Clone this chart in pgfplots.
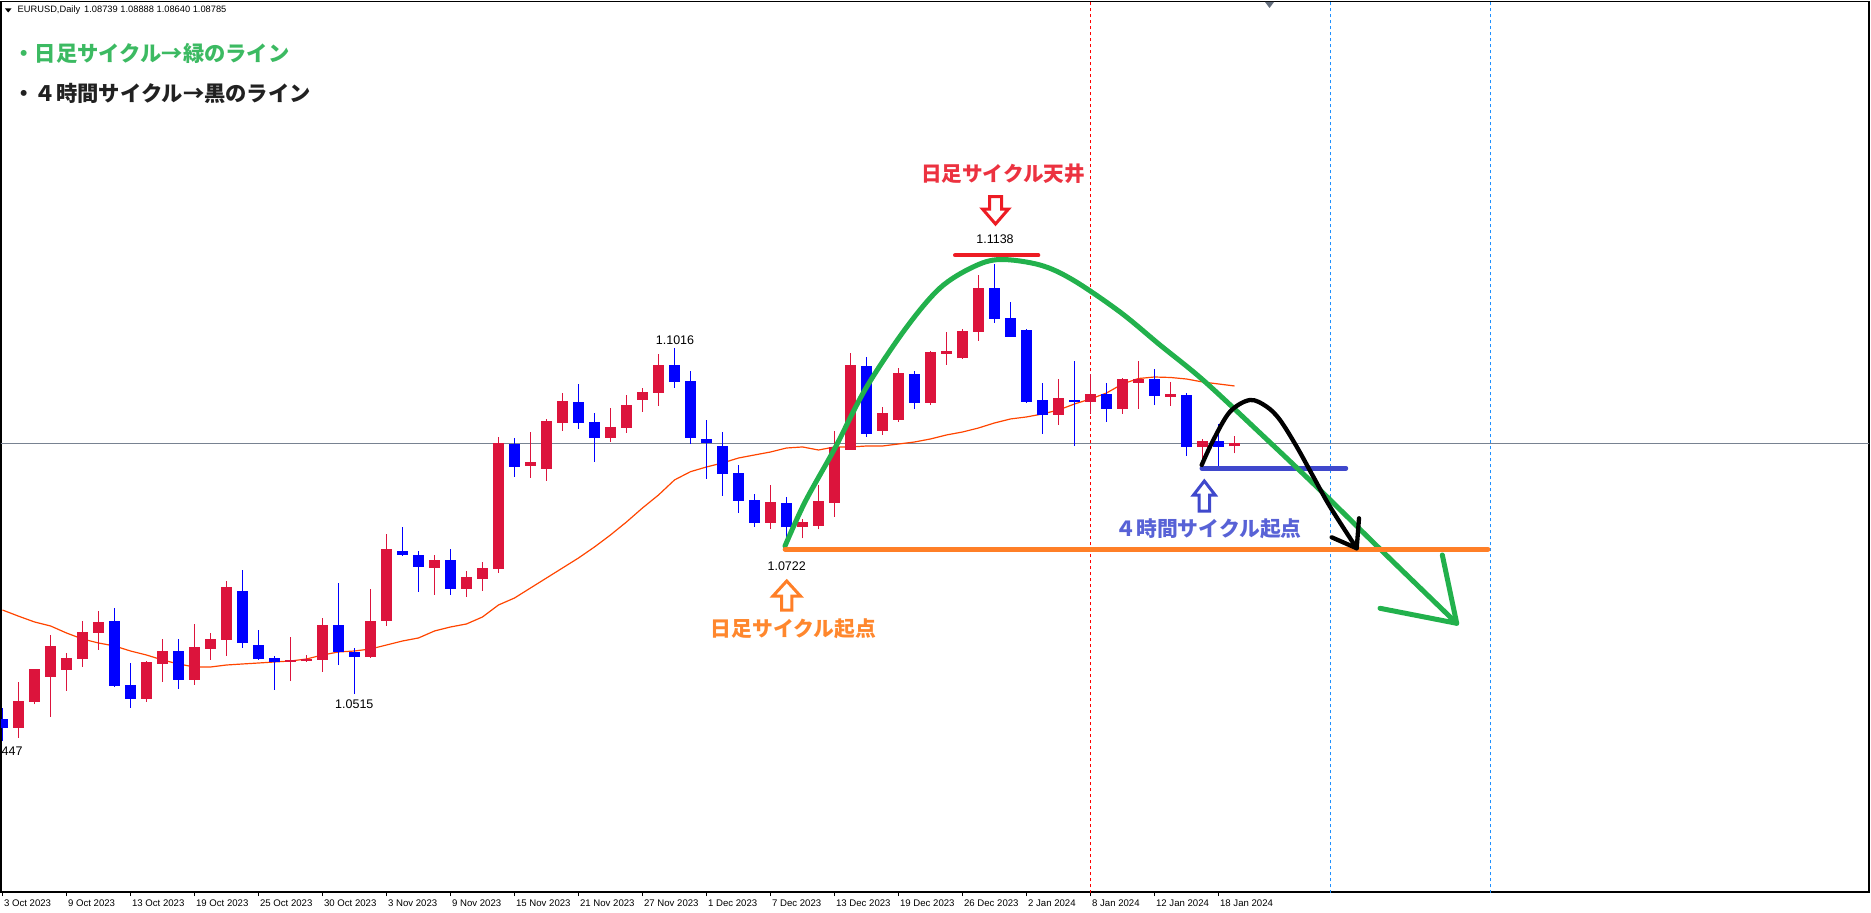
\documentclass[border=0pt]{standalone}
\usepackage{pgfplots}
\pgfplotsset{compat=1.18}
\usepackage{pgfplotstable}
\usepackage{fontspec}
\setmainfont{Liberation Sans}
\newfontfamily\jp{Noto Sans CJK JP}

\definecolor{candleup}{RGB}{220,20,60}
\definecolor{candledn}{RGB}{0,0,255}
\definecolor{maline}{RGB}{255,69,0}
\definecolor{bidline}{RGB}{120,130,145}
\definecolor{cyclegreen}{RGB}{34,177,76}
\definecolor{textgreen}{RGB}{60,186,98}
\definecolor{topred}{RGB}{237,28,36}
\definecolor{textred}{RGB}{236,50,64}
\definecolor{baseorange}{RGB}{255,127,39}
\definecolor{textorange}{RGB}{255,135,45}
\definecolor{fourhblue}{RGB}{63,72,204}
\definecolor{textblue}{RGB}{88,98,214}
\definecolor{vblue}{RGB}{30,144,255}
\definecolor{shiftgray}{RGB}{100,110,125}

% EURUSD daily candles, i = bar number from 3 Oct 2023
% rising bars (close above open)
\pgfplotstableread{
i  o       h       l       c
1  1.04664 1.05326 1.04519 1.05051
2  1.05041 1.05520 1.05003 1.05514
3  1.05403 1.06007 1.04823 1.05848
4  1.05500 1.05746 1.05196 1.05674
5  1.05663 1.06210 1.05548 1.06051
6  1.06041 1.06355 1.05790 1.06196
9  1.05080 1.05630 1.05036 1.05616
10 1.05587 1.05949 1.05326 1.05775
12 1.05355 1.06167 1.05283 1.05833
13 1.05804 1.06036 1.05645 1.05949
14 1.05935 1.06790 1.05703 1.06703
18 1.05616 1.05978 1.05340 1.05645
19 1.05630 1.05717 1.05616 1.05659
20 1.05645 1.06254 1.05471 1.06152
23 1.05688 1.06674 1.05674 1.06210
24 1.06210 1.07471 1.06138 1.07253
27 1.06983 1.07167 1.06587 1.07094
29 1.06678 1.06935 1.06562 1.06848
30 1.06823 1.07065 1.06649 1.06978
31 1.06968 1.08877 1.06910 1.08785
33 1.08461 1.08949 1.08287 1.08514
34 1.08417 1.09138 1.08243 1.09109
35 1.09084 1.09515 1.08968 1.09399
38 1.08866 1.09297 1.08808 1.09022
39 1.09011 1.09486 1.08939 1.09341
40 1.09417 1.09587 1.09243 1.09529
41 1.09519 1.10080 1.09330 1.09920
48 1.07635 1.08181 1.07548 1.07935
50 1.07577 1.07688 1.07409 1.07645
51 1.07591 1.08181 1.07539 1.07949
52 1.07925 1.08964 1.07722 1.08732
53 1.08692 1.10090 1.08692 1.09920
55 1.08968 1.09312 1.08910 1.09225
56 1.09127 1.09877 1.09098 1.09804
58 1.09370 1.10123 1.09345 1.10109
59 1.10084 1.10398 1.09920 1.10123
60 1.10017 1.10442 1.10012 1.10413
61 1.10403 1.11225 1.10272 1.11036
66 1.09200 1.09717 1.09055 1.09442
68 1.09388 1.09790 1.09214 1.09500
70 1.09287 1.09732 1.09214 1.09717
71 1.09664 1.09978 1.09287 1.09717
73 1.09461 1.09674 1.09330 1.09496
75 1.08736 1.08848 1.08519 1.08819
77 1.08739 1.08888 1.08640 1.08785
}\bull

% falling bars (close below open)
\pgfplotstableread{
i  o       h       l       c
0  1.04790 1.04954 1.04470 1.04664
7  1.06210 1.06398 1.05254 1.05268
8  1.05283 1.05601 1.04949 1.05080
11 1.05775 1.05949 1.05225 1.05355
15 1.06645 1.06949 1.05819 1.05891
16 1.05862 1.06080 1.05645 1.05659
17 1.05674 1.05703 1.05210 1.05616
21 1.06152 1.06761 1.05572 1.05761
22 1.05761 1.05819 1.05150 1.05688
25 1.07224 1.07572 1.07152 1.07167
26 1.07167 1.07224 1.06635 1.06997
28 1.07094 1.07253 1.06587 1.06678
32 1.08775 1.08862 1.08301 1.08446
36 1.09384 1.09645 1.08997 1.09084
37 1.09094 1.09225 1.08519 1.08866
42 1.09920 1.10160 1.09591 1.09678
43 1.09688 1.09833 1.08779 1.08866
44 1.08848 1.09123 1.08272 1.08785
45 1.08746 1.08949 1.08026 1.08345
46 1.08355 1.08471 1.07780 1.07953
47 1.07964 1.08051 1.07577 1.07635
49 1.07920 1.08007 1.07220 1.07568
54 1.09906 1.10036 1.08881 1.08925
57 1.09790 1.09833 1.09287 1.09374
62 1.11036 1.11380 1.10533 1.10591
63 1.10601 1.10833 1.10330 1.10330
64 1.10427 1.10442 1.09374 1.09388
65 1.09413 1.09659 1.08925 1.09200
67 1.09409 1.09978 1.08751 1.09384
69 1.09500 1.09659 1.09098 1.09287
72 1.09717 1.09862 1.09340 1.09475
74 1.09486 1.09515 1.08606 1.08736
76 1.08819 1.09065 1.08456 1.08736
}\bear

\newcommand{\jpf}[1]{\jp\bfseries\fontsize{#1}{#1}\selectfont}

% one candle component: a vertical bar from y to y + (error plus)
\pgfplotsset{
  candle part/.style n args={2}{
    draw=none, mark=none,
    error bars/.cd, y dir=plus, y explicit, error mark=none,
    error bar style={draw=#1, solid, line width=#2}},
}

\begin{document}
\begin{tikzpicture}
\begin{axis}[
  name=ax, at={(0,0)}, anchor=south west,
  scale only axis, width=934pt, height=445.25pt,
  xmin=-0.09375, xmax=116.65625,
  ymin=1.022821, ymax=1.151879,
  axis line style={black, line width=0.7pt},
  ytick=\empty,
  xtick={0,4,...,76},
  xticklabels={3 Oct 2023,9 Oct 2023,13 Oct 2023,19 Oct 2023,25 Oct 2023,30 Oct 2023,3 Nov 2023,9 Nov 2023,15 Nov 2023,21 Nov 2023,27 Nov 2023,1 Dec 2023,7 Dec 2023,13 Dec 2023,19 Dec 2023,26 Dec 2023,2 Jan 2024,8 Jan 2024,12 Jan 2024,18 Jan 2024},
  xtick pos=left, tick align=outside, major tick length=2pt,
  xtick style={black, line width=0.5pt},
  xticklabel style={font=\fontsize{4.8pt}{5pt}\selectfont, anchor=north west, inner sep=0pt, xshift=0.6pt, yshift=-1.6pt},
  clip=true,
]
% current bid level and period separators
\addplot[bidline, line width=0.5pt, mark=none] coordinates {(-1,1.08785) (118,1.08785)};
\draw[red, line width=0.5pt, dash pattern=on 1.5pt off 1.5pt] (axis cs:68,1.02) -- (axis cs:68,1.16);
\draw[vblue, line width=0.5pt, dash pattern=on 1.5pt off 1.5pt] (axis cs:83,1.02) -- (axis cs:83,1.16);
\draw[vblue, line width=0.5pt, dash pattern=on 1.5pt off 1.5pt] (axis cs:93,1.02) -- (axis cs:93,1.16);

% moving average
\addplot[maline, line width=0.6pt, mark=none] coordinates {
(0,1.06369) (1,1.06280) (2,1.06196) (3,1.06138) (4,1.06036) (5,1.05949) (6,1.05891)
(7,1.05848) (8,1.05775) (9,1.05717) (10,1.05645) (11,1.05587) (12,1.05543) (13,1.05543)
(14,1.05572) (15,1.05587) (16,1.05601) (17,1.05616) (18,1.05630) (19,1.05659) (20,1.05717)
(21,1.05761) (22,1.05775) (23,1.05804) (24,1.05862) (25,1.05920) (26,1.05964) (27,1.06065)
(28,1.06123) (29,1.06167) (30,1.06268) (31,1.06442) (32,1.06543) (33,1.06688) (34,1.06833)
(35,1.06978) (36,1.07123) (37,1.07283) (38,1.07457) (39,1.07645) (40,1.07848) (41,1.08036)
(42,1.08254) (43,1.08374) (44,1.08442) (45,1.08500) (46,1.08572) (47,1.08616) (48,1.08659)
(49,1.08717) (50,1.08732) (51,1.08688) (52,1.08732) (53,1.08732) (54,1.08746) (55,1.08746)
(56,1.08775) (57,1.08804) (58,1.08848) (59,1.08906) (60,1.08949) (61,1.09007) (62,1.09080)
(63,1.09138) (64,1.09167) (65,1.09210) (66,1.09268) (67,1.09355) (68,1.09428) (69,1.09514)
(70,1.09645) (71,1.09724) (72,1.09746) (73,1.09739) (74,1.09717) (75,1.09674) (76,1.09645)
(77,1.09616)};

% wicks
\addplot[candle part={candleup}{0.85pt}]
  table[x=i, y=l, y error plus expr=\thisrow{h}-\thisrow{l}] {\bull};
\addplot[candle part={candledn}{0.85pt}]
  table[x=i, y=l, y error plus expr=\thisrow{h}-\thisrow{l}] {\bear};
% bodies
\addplot[candle part={candleup}{5.5pt}]
  table[x=i, y=o, y error plus expr=\thisrow{c}-\thisrow{o}] {\bull};
\addplot[candle part={candledn}{5.5pt}]
  table[x=i, y=c, y error plus expr=\thisrow{o}-\thisrow{c}] {\bear};
\end{axis}

% drawings on the chart, in screen units (1 unit = 0.5pt, y downwards)
\begin{scope}[shift={(ax.south west)}, shift={(-0.5pt,446pt)}, x=0.5pt, y=-0.5pt]
  % header
  \fill[black] (5,8.5) -- (11.5,8.5) -- (8.25,12.5) -- cycle;
  \node[anchor=west, inner sep=0pt, font=\fontsize{4.65pt}{5pt}\selectfont] at (17.3,10)
    {EURUSD,Daily\hspace{2pt}1.08739 1.08888 1.08640 1.08785};
  \fill[shiftgray] (1265,2) -- (1274,2) -- (1269.5,8) -- cycle;

  % price labels
  \begin{scope}[every node/.style={inner sep=0pt, font=\fontsize{6.25pt}{7pt}\selectfont}]
    \node at (995,239.3) {1.1138};
    \node at (675,340) {1.1016};
    \node at (786.7,566) {1.0722};
    \node at (354.3,704) {1.0515};
    \node[anchor=east] at (23,750.7) {1.0447};
  \end{scope}

  % 4-hour cycle base
  \draw[fourhblue, line width=2.2pt, line cap=round] (1201.7,468.3) -- (1346,468.3);
  % daily cycle
  \draw[cyclegreen, line width=2.5pt, line cap=round, line join=round]
    plot[smooth, tension=0.55] coordinates {(785,546) (805,502) (835,448) (866,388) (906,328)
      (940,288) (973,267) (1000,259.5) (1040,265) (1073,280) (1120,312) (1160,345)
      (1203,380) (1260,433) (1320,490) (1380,549) (1456.7,623.3)};
  \draw[cyclegreen, line width=2.5pt, line cap=round, line join=round]
    (1442.3,555) -- (1456.7,623.3) -- (1380,608.3);
  % daily cycle base and top
  \draw[baseorange, line width=2.3pt, line cap=round] (785,549.3) -- (1488,549.3);
  \draw[topred, line width=2pt, line cap=round] (955,255.3) -- (1038.3,255.3);
  % 4-hour cycle
  \draw[black, line width=2.15pt, line cap=round, line join=round]
    plot[smooth, tension=0.55] coordinates {(1201.7,465) (1213.3,440) (1230,411.7) (1250,400)
      (1266.7,406.7) (1280,420) (1296.7,446.7) (1313.3,476.7) (1330,506.7) (1356.7,548.3)};
  \draw[black, line width=2.15pt, line cap=round, line join=round]
    (1359,518.3) -- (1356.7,548.3) -- (1331.7,537.3);

  % hollow arrows
  \draw[topred, line width=1.5pt, fill=white]
    (989.5,196.5) -- (1001.5,196.5) -- (1001.5,209) -- (1008.5,209) -- (995.5,224)
    -- (982.5,209) -- (989.5,209) -- cycle;
  \draw[baseorange, line width=1.5pt, fill=white]
    (786.7,581) -- (800.4,596) -- (791.9,596) -- (791.9,610) -- (781.5,610)
    -- (781.5,596) -- (773,596) -- cycle;
  \draw[fourhblue, line width=1.5pt, fill=white]
    (1204.3,481) -- (1215.1,495) -- (1209.6,495) -- (1209.6,511) -- (1199,511)
    -- (1199,495) -- (1193.5,495) -- cycle;

  % notes
  \node[anchor=west, inner sep=0pt, text=textgreen, font=\jpf{10.65pt}] at (13.3,53.3)
    {・日足サイクル→緑のライン};
  \node[anchor=west, inner sep=0pt, text=black!87, font=\jpf{10.65pt}] at (13.3,93.3)
    {・４時間サイクル→黒のライン};
  \node[inner sep=0pt, text=textred, font=\jpf{10.3pt}] at (1003,174) {日足サイクル天井};
  \node[inner sep=0pt, text=textorange, font=\jpf{10.4pt}] at (793.5,629) {日足サイクル起点};
  \node[inner sep=0pt, text=textblue, font=\jpf{10.4pt}] at (1208.5,529) {４時間サイクル起点};

  \pgfresetboundingbox
  \path[use as bounding box] (0,0) rectangle (1871,912);
\end{scope}
\end{tikzpicture}
\end{document}
